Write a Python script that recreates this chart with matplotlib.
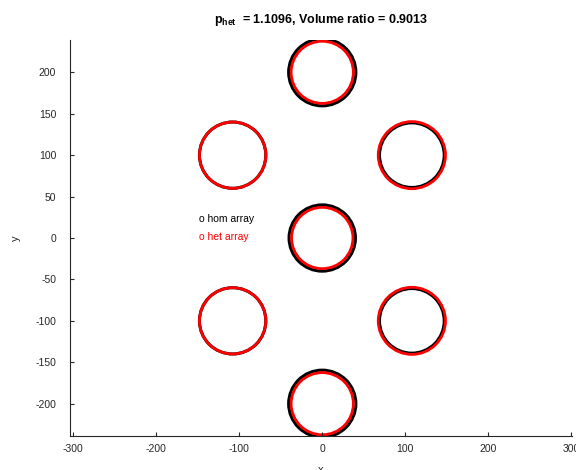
import matplotlib.pyplot as plt
from matplotlib.patches import Circle

plt.rcParams['font.family'] = ['Liberation Sans', 'DejaVu Sans']
plt.rcParams['mathtext.fontset'] = 'custom'
plt.rcParams['mathtext.rm'] = 'Liberation Sans'
plt.rcParams['mathtext.bf'] = 'Liberation Sans:bold'
plt.rcParams['axes.unicode_minus'] = False

# 圆心位置（两组阵列共用）
cx = [0, 0, 0, 108, 108, -108, -108]
cy = [200, 0, -200, 100, -100, 100, -100]
# 半径
r_hom = [40.5, 40, 40.5, 39, 39, 40, 40]
r_het = [37.5, 37, 37.5, 40.5, 40.5, 40, 40]

p_het = 1.1096
vol_ratio = 0.9013

axis_col = '#262626'

fig = plt.figure(figsize=(5.76, 4.70), dpi=100)
ax = fig.add_axes([70 / 576, 34 / 470, 502 / 576, 396 / 470])

for x, y, r in zip(cx, cy, r_hom):
    ax.add_patch(Circle((x, y), r, fill=False, edgecolor='black', linewidth=2.2))
for x, y, r in zip(cx, cy, r_het):
    ax.add_patch(Circle((x, y), r, fill=False, edgecolor='red', linewidth=2.0))

ax.text(-148, 23, 'o hom array', color='black', fontsize=7.5, va='center')
ax.text(-148, 1, 'o het array', color='red', fontsize=7.5, va='center')

ax.set_xlim(-304, 301)
ax.set_ylim(-239, 239)
ax.set_xticks([-300, -200, -100, 0, 100, 200, 300])
ax.set_yticks([-200, -150, -100, -50, 0, 50, 100, 150, 200])

for s in ['top', 'right']:
    ax.spines[s].set_visible(False)
for s in ['left', 'bottom']:
    ax.spines[s].set_color(axis_col)
    ax.spines[s].set_linewidth(0.8)
ax.tick_params(direction='in', length=3, width=0.8, colors=axis_col,
               labelsize=7.5, pad=10)
ax.tick_params(axis='x', pad=6)

ax.set_xlabel('x', fontsize=8, color=axis_col, labelpad=8)
ax.set_ylabel('y', fontsize=8, color=axis_col, labelpad=10)

ax.set_title(r'$\mathbf{p_{het}}$' + '  = {:.4f}, Volume ratio = {:.4f}'.format(p_het, vol_ratio),
             fontsize=9, fontweight='bold', pad=12)

fig.savefig('out.png', dpi=100)
